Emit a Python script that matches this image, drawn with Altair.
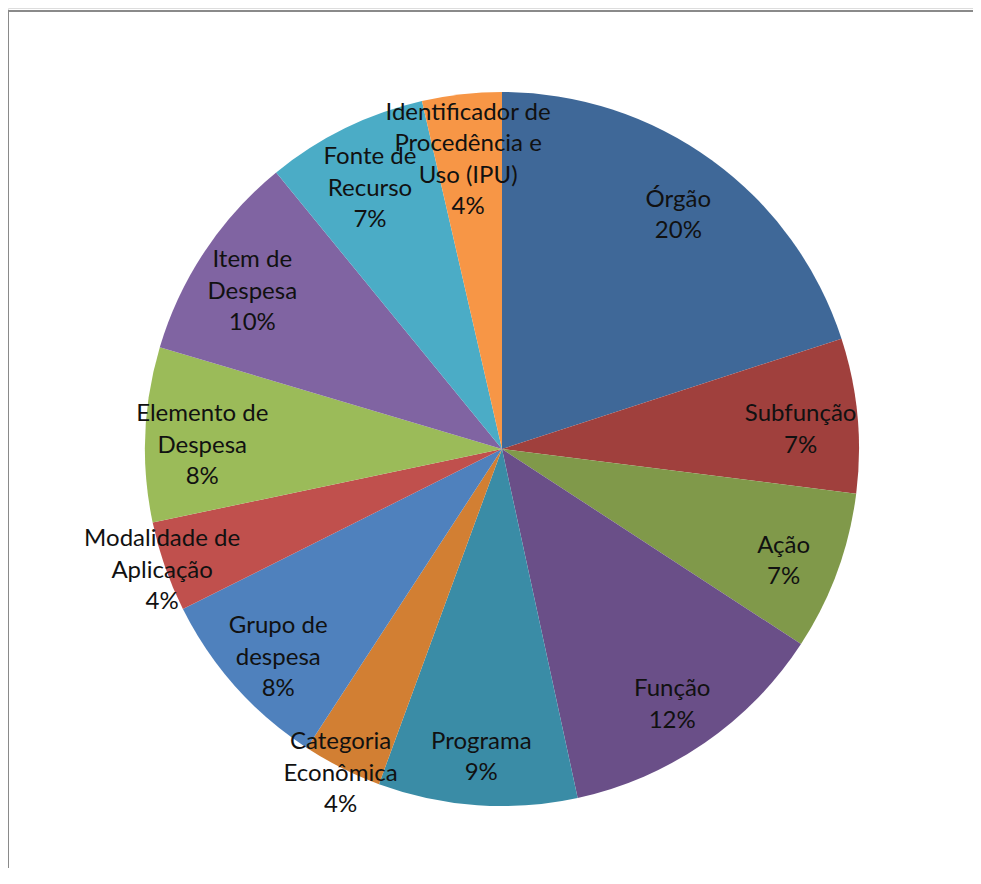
import altair as alt
import pandas as pd

categories = [
    "Órgão", "Subfunção", "Ação", "Função", "Programa",
    "Categoria\nEconômica", "Grupo de\ndespesa", "Modalidade de\nAplicação",
    "Elemento de\nDespesa", "Item de\nDespesa", "Fonte de\nRecurso",
    "Identificador de\nProcedência e\nUso (IPU)",
]
shares = [20.0, 7.0, 7.2, 12.4, 9.0, 3.6, 8.4, 4.1, 7.9, 9.5, 7.3, 3.6]
colors = [
    "#3F6898", "#A0403D", "#80994A", "#6A4F88", "#3A8CA6", "#D27F33",
    "#4F81BD", "#C0504D", "#9BBB59", "#8064A2", "#4BACC6", "#F79646",
]

LH = 31.5  # line spacing of labels

labels = [f"{c}\n{round(v)}%" for c, v in zip(categories, shares)]
nlines = [lab.count("\n") + 1 for lab in labels]

df = pd.DataFrame({
    "cat": categories,
    "value": shares,
    "idx": list(range(len(categories))),
    "label": labels,
    "nlines": nlines,
})

W, H = 965, 860
CX, CY = 494, 441
R = 357

base = alt.Chart(df).encode(
    theta=alt.Theta("value:Q", stack=True, scale=alt.Scale(range=[0, 6.283185307])),
    order=alt.Order("idx:Q"),
)

arcs = base.mark_arc(outerRadius=R).encode(
    x=alt.value(CX), y=alt.value(CY),
    color=alt.Color("cat:N", scale=alt.Scale(domain=categories, range=colors), legend=None),
)

lab = base.transform_window(
    cum="sum(value)", sort=[alt.SortField("idx")]
).transform_calculate(
    mid="(datum.cum - datum.value / 2) * 3.6",
).transform_calculate(
    outer="datum.value < 5 && datum.mid > 180 && datum.mid < 300",
)

layers = [arcs]
for outer in (False, True):
    for n in sorted(set(nlines)):
        cond = f"{'datum.outer' if outer else '!datum.outer'} && datum.nlines == {n}"
        layers.append(
            lab.transform_calculate(t=f"{cond} ? datum.label : ''").mark_text(
                radius=360 if outer else 300,
                font="Lato", fontSize=24, lineBreak="\n", lineHeight=LH,
                dy=-(n - 1) * LH / 2 + (3 if outer else 9), color="#111111",
                align="center", baseline="middle",
            ).encode(x=alt.value(CX), y=alt.value(CY), text="t:N")
        )

frame_top = alt.Chart(df).mark_rule(color="#8a8a8a", strokeWidth=1.5).encode(
    x=alt.value(0), x2=alt.value(W), y=alt.value(3)
)
frame_left = alt.Chart(df).mark_rule(color="#8a8a8a", strokeWidth=1.5).encode(
    x=alt.value(0), y=alt.value(3), y2=alt.value(H)
)
layers += [frame_top, frame_left]

chart = alt.layer(*layers).properties(
    width=W, height=H, autosize=alt.AutoSizeParams(type="none"), padding=0,
).configure_view(stroke=None).configure(background="white")

chart.save("out.html", embed_options={"renderer": "svg", "actions": False})
